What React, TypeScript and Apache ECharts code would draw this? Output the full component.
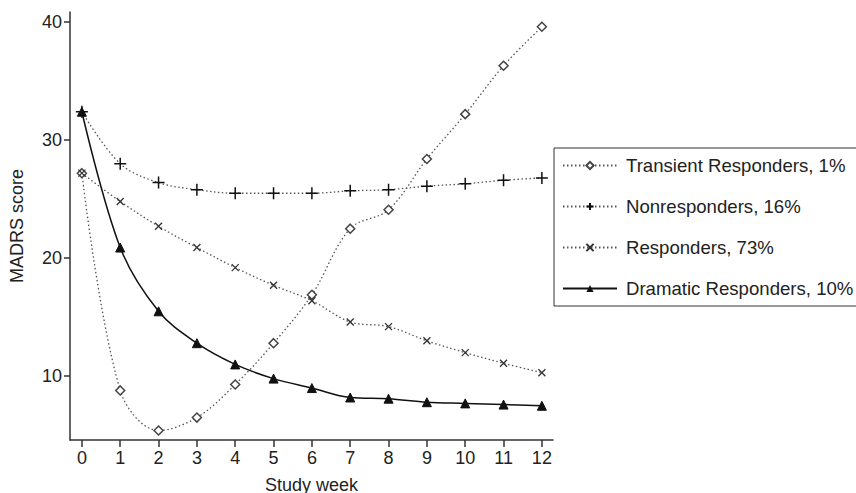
import React, { useEffect, useRef } from "react";
import * as echarts from "echarts";

const weeks = [0, 1, 2, 3, 4, 5, 6, 7, 8, 9, 10, 11, 12];
const yTicks = [10, 20, 30, 40];
const seriesNames = [
  "Transient Responders, 1%",
  "Nonresponders, 16%",
  "Responders, 73%",
  "Dramatic Responders, 10%",
];
const transient = [27.2, 8.8, 5.4, 6.5, 9.3, 12.8, 16.9, 22.5, 24.1, 28.4, 32.2, 36.3, 39.6];
const nonresponders = [32.4, 28.0, 26.4, 25.8, 25.5, 25.5, 25.5, 25.7, 25.8, 26.1, 26.3, 26.6, 26.8];
const responders = [27.2, 24.8, 22.7, 20.9, 19.2, 17.7, 16.4, 14.6, 14.2, 13.0, 12.0, 11.1, 10.3];
const dramatic = [32.4, 20.9, 15.5, 12.8, 11.0, 9.8, 9.0, 8.2, 8.1, 7.8, 7.7, 7.6, 7.5];

const FONT = "Liberation Sans, Arial, sans-serif";
const PLUS = "path://M0,5L10,5M5,0L5,10";
const CROSS = "path://M0,0L10,10M10,0L0,10";

export default function App() {
  const ref = useRef<HTMLDivElement>(null);
  useEffect(() => {
    document.body.style.margin = "0";
    if (!ref.current) return;
    const chart = echarts.init(ref.current, undefined, { renderer: "svg" });
    const pairs = (arr: number[]) => weeks.map((w, i) => [w, arr[i]]);
    const dotted = { type: [1.5, 2.5] as any, width: 1.3, color: "#555" };
    chart.setOption({
      animation: false,
      textStyle: { fontFamily: FONT },
      grid: { left: 70, right: 303, top: 12, bottom: 53, containLabel: false, outerBoundsMode: "none" },
      legend: {
        orient: "vertical",
        left: 554,
        top: 148,
        padding: [8, 8, 8, 8],
        borderColor: "#333",
        borderWidth: 1,
        itemWidth: 54,
        itemHeight: 9,
        itemGap: 22,
        textStyle: { fontSize: 18.6, color: "#222", fontFamily: FONT, padding: [0, 0, 0, 4] },
        data: seriesNames,
      },
      xAxis: {
        type: "value",
        min: -0.31,
        max: 12.29,
        name: "Study week",
        nameLocation: "middle",
        nameGap: 36,
        nameTextStyle: { fontSize: 18, color: "#222" },
        splitLine: { show: false },
        axisLine: { show: true, onZero: false, lineStyle: { color: "#333", width: 1.5 } },
        axisTick: { show: true, length: 7, customValues: weeks, lineStyle: { color: "#333", width: 1.5 } },
        axisLabel: { customValues: weeks, fontSize: 18, color: "#222", margin: 9 },
      },
      yAxis: {
        type: "value",
        min: 4.6,
        max: 40.85,
        name: "MADRS score",
        nameLocation: "middle",
        nameGap: 44,
        nameTextStyle: { fontSize: 18, color: "#222" },
        splitLine: { show: false },
        axisLine: { show: true, onZero: false, lineStyle: { color: "#333", width: 1.5 } },
        axisTick: { show: true, length: 6, customValues: yTicks, lineStyle: { color: "#333", width: 1.5 } },
        axisLabel: { customValues: yTicks, fontSize: 18, color: "#222", margin: 8 },
      },
      series: [
        {
          name: seriesNames[0],
          type: "line",
          data: pairs(transient),
          smooth: 0.35,
          symbol: "diamond",
          symbolSize: 9,
          lineStyle: dotted,
          itemStyle: { color: "#fff", borderColor: "#444", borderWidth: 1.5 },
        },
        {
          name: seriesNames[1],
          type: "line",
          data: pairs(nonresponders),
          smooth: 0.35,
          symbol: PLUS,
          symbolSize: 12,
          lineStyle: dotted,
          itemStyle: { color: "none", borderColor: "#111", borderWidth: 1.5 },
        },
        {
          name: seriesNames[2],
          type: "line",
          data: pairs(responders),
          smooth: 0.35,
          symbol: CROSS,
          symbolSize: 7,
          lineStyle: dotted,
          itemStyle: { color: "none", borderColor: "#333", borderWidth: 1.3 },
        },
        {
          name: seriesNames[3],
          type: "line",
          data: pairs(dramatic),
          smooth: 0.35,
          symbol: "triangle",
          symbolSize: 9,
          lineStyle: { type: "solid", width: 1.5, color: "#111" },
          itemStyle: { color: "#111", borderColor: "#111" },
        },
      ],
    });
    return () => chart.dispose();
  }, []);
  return <div ref={ref} style={{ width: 856, height: 493 }} />;
}
